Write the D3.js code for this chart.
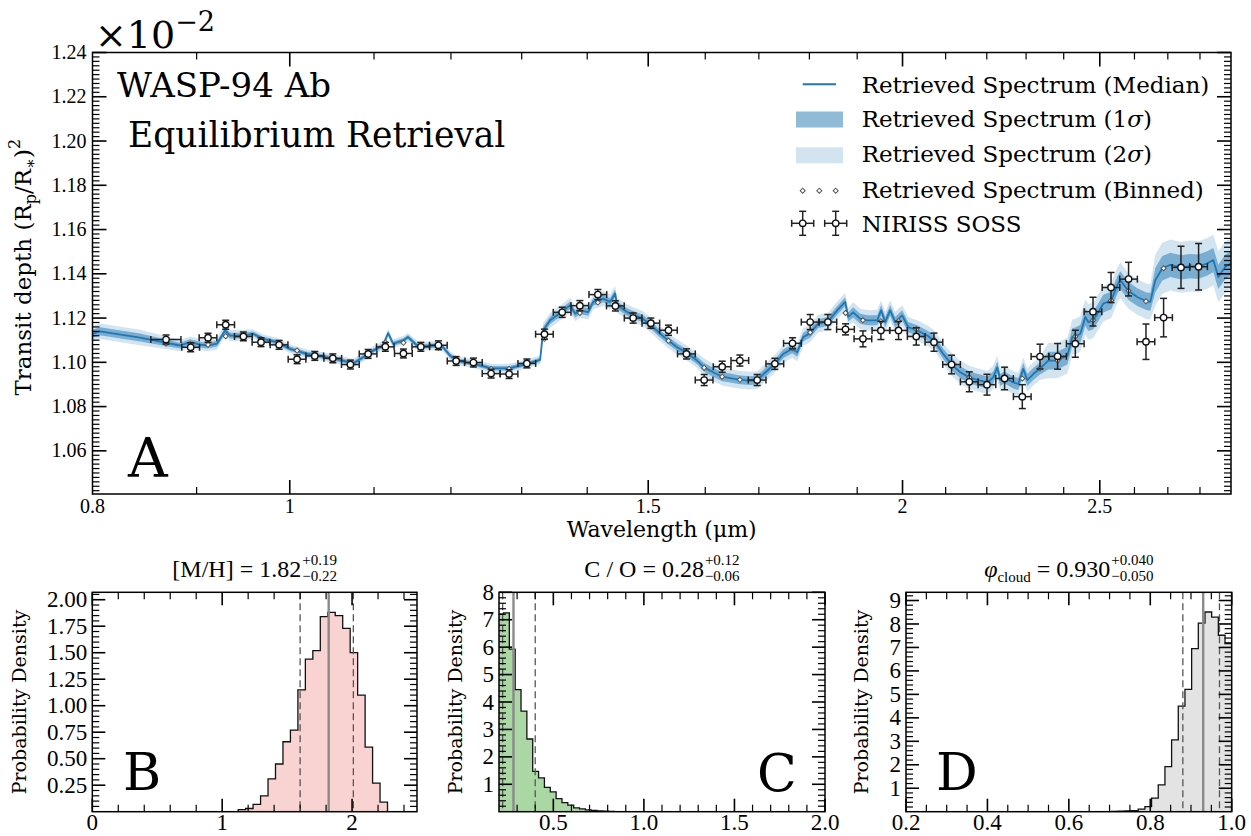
<!DOCTYPE html>
<html>
<head>
<meta charset="utf-8">
<script src="https://cdn.jsdelivr.net/npm/d3@7"></script>
<style>
  body { margin: 0; background: #fff; }
  svg { display: block; }
</style>
</head>
<body>
<svg id="chart" width="1251" height="836"></svg>
<script>
// ---------------- NIRISS SOSS transmission spectrum (depth in units of 1e-2) ----------------
const obsWave = [0.8694,0.8940,0.9117,0.9301,0.9489,0.9680,0.9880,1.0083,1.0287,1.0499,
  1.0710,1.0927,1.1142,1.1372,1.1598,1.1831,1.2071,1.2309,1.2558,1.2816,
  1.3076,1.3339,1.3609,1.3884,1.4170,1.4454,1.4747,1.5045,1.5348,1.5663,
  1.5980,1.6309,1.6639,1.6968,1.7311,1.7659,1.8016,1.8381,1.8751,1.9124,
  1.9517,1.9910,2.0313,2.0724,2.1141,2.1569,2.2005,2.2448,2.2902,2.3365,
  2.3835,2.4317,2.4809,2.5320,2.5827,2.6341,2.6871,2.7405,2.7956];
const obsWaveErr = [0.0148,0.0090,0.0091,0.0093,0.0095,0.0097,0.0099,0.0101,0.0103,0.0105,
  0.0107,0.0109,0.0111,0.0114,0.0116,0.0118,0.0121,0.0123,0.0126,0.0128,
  0.0131,0.0133,0.0136,0.0139,0.0142,0.0145,0.0147,0.0150,0.0153,0.0157,
  0.0160,0.0163,0.0166,0.0170,0.0173,0.0177,0.0180,0.0184,0.0188,0.0191,
  0.0195,0.0199,0.0203,0.0207,0.0211,0.0216,0.0220,0.0224,0.0229,0.0234,
  0.0238,0.0243,0.0248,0.0253,0.0258,0.0263,0.0269,0.0274,0.0280];
const obsDepth = [1.1103,1.1068,1.1111,1.1170,1.1117,1.1091,1.1079,1.1014,1.1029,1.1018,
  1.0990,1.1038,1.1070,1.1040,1.1070,1.1077,1.1006,1.0999,1.0949,1.0947,
  1.0995,1.1127,1.1226,1.1256,1.1306,1.1255,1.1200,1.1177,1.1145,1.1038,
  1.0920,1.0980,1.1008,1.0920,1.0993,1.1086,1.1182,1.1182,1.1149,1.1106,
  1.1144,1.1144,1.1117,1.1091,1.0990,1.0912,1.0899,1.0927,1.0845,1.1026,
  1.1027,1.1084,1.1229,1.1338,1.1376,1.1093,1.1202,1.1429,1.1432];
const obsDepthErr = [0.0020,0.0020,0.0020,0.0020,0.0020,0.0020,0.0020,0.0020,0.0020,0.0020,
  0.0020,0.0020,0.0020,0.0020,0.0020,0.0020,0.0020,0.0020,0.0020,0.0020,
  0.0020,0.0023,0.0023,0.0023,0.0023,0.0023,0.0023,0.0023,0.0023,0.0023,
  0.0025,0.0025,0.0025,0.0025,0.0025,0.0025,0.0034,0.0034,0.0025,0.0036,
  0.0041,0.0041,0.0039,0.0041,0.0042,0.0045,0.0047,0.0051,0.0054,0.0056,
  0.0058,0.0061,0.0065,0.0068,0.0076,0.0080,0.0087,0.0095,0.0105];
// retrieved model binned onto the data wavelengths
const binnedDepth = [1.1084,1.1073,1.1079,1.1118,1.1114,1.1105,1.1086,1.1053,1.1035,1.1023,
  1.0997,1.1045,1.1090,1.1088,1.1073,1.1067,1.1002,1.0990,1.0970,1.0970,
  1.0993,1.1106,1.1223,1.1223,1.1270,1.1258,1.1215,1.1162,1.1097,1.1041,
  1.0976,1.0935,1.0921,1.0920,1.0997,1.1064,1.1135,1.1185,1.1223,1.1190,
  1.1186,1.1186,1.1149,1.1099,1.0990,1.0932,1.0909,1.0932,1.0927,1.0973,
  1.1008,1.1117,1.1190,1.1280,1.1323,1.1276,1.1425,1.1429,1.1432];

// ---------------- retrieved model spectrum (median and 1/2 sigma half widths) ----------------
const modelWave = [0.8000,0.8068,0.8442,0.8833,0.8933,0.9035,0.9107,0.9210,0.9263,0.9294,
  0.9347,0.9485,0.9593,0.9702,0.9857,1.0003,1.0198,1.0384,1.0586,1.0743,
  1.0865,1.0988,1.1113,1.1177,1.1240,1.1368,1.1432,1.1549,1.1628,1.1814,
  1.1894,1.1989,1.2084,1.2305,1.2558,1.2816,1.3080,1.3274,1.3319,1.3425,
  1.3578,1.3732,1.3810,1.3888,1.4015,1.4094,1.4254,1.4368,1.4449,1.4482,
  1.4647,1.4747,1.4898,1.5050,1.5204,1.5343,1.5500,1.5676,1.5854,1.5980,
  1.6144,1.6309,1.6457,1.6645,1.6834,1.6968,1.7161,1.7317,1.7475,1.7653,
  1.7753,1.7874,1.8016,1.8180,1.8387,1.8575,1.8744,1.8808,1.8914,1.9065,
  1.9216,1.9435,1.9523,1.9611,1.9722,1.9834,1.9992,2.0128,2.0334,2.0566,
  2.0731,2.0943,2.1133,2.1350,2.1568,2.1789,2.2012,2.2162,2.2262,2.2338,
  2.2439,2.2669,2.2797,2.2927,2.3031,2.3188,2.3372,2.3585,2.3827,2.4098,
  2.4234,2.4317,2.4455,2.4594,2.4677,2.4818,2.4958,2.5100,2.5328,2.5500,
  2.5587,2.5820,2.6084,2.6351,2.6470,2.6620,2.6832,2.7076,2.7415,2.7696,
  2.7947,2.8234,2.8426,2.8587,2.8815,2.9011];
const modelMedian = [1.1129,1.1140,1.1112,1.1076,1.1091,1.1080,1.1076,1.1084,1.1121,1.1144,
  1.1121,1.1121,1.1129,1.1106,1.1091,1.1061,1.1038,1.1026,1.1011,1.0995,
  1.1023,1.1053,1.1076,1.1132,1.1084,1.1099,1.1114,1.1076,1.1073,1.1076,
  1.1068,1.1030,1.1008,1.0994,1.0973,1.0973,1.0993,1.1011,1.1144,1.1190,
  1.1223,1.1258,1.1220,1.1235,1.1227,1.1273,1.1288,1.1273,1.1311,1.1258,
  1.1227,1.1215,1.1199,1.1167,1.1129,1.1099,1.1068,1.1041,1.1008,1.0977,
  1.0955,1.0935,1.0929,1.0921,1.0917,1.0920,1.0962,1.0995,1.1038,1.1061,
  1.1045,1.1114,1.1132,1.1175,1.1185,1.1235,1.1273,1.1205,1.1226,1.1197,
  1.1190,1.1190,1.1235,1.1182,1.1235,1.1182,1.1212,1.1159,1.1144,1.1121,
  1.1099,1.1038,1.0993,1.0955,1.0932,1.0920,1.0909,1.0932,1.0977,1.0920,
  1.0932,1.0909,1.0902,1.0970,1.0920,1.0947,1.0973,1.1008,1.1008,1.1030,
  1.1114,1.1117,1.1129,1.1205,1.1182,1.1190,1.1227,1.1265,1.1280,1.1349,
  1.1371,1.1323,1.1295,1.1276,1.1273,1.1371,1.1425,1.1440,1.1429,1.1435,
  1.1432,1.1447,1.1462,1.1386,1.1432,1.1447];
const modelSig1 = [0.0018,0.0018,0.0018,0.0013,0.0013,0.0013,0.0013,0.0013,0.0013,0.0013,
  0.0013,0.0013,0.0010,0.0010,0.0010,0.0010,0.0010,0.0010,0.0010,0.0010,
  0.0010,0.0010,0.0010,0.0010,0.0010,0.0010,0.0010,0.0010,0.0010,0.0010,
  0.0010,0.0010,0.0010,0.0010,0.0010,0.0010,0.0010,0.0010,0.0017,0.0017,
  0.0017,0.0017,0.0017,0.0017,0.0017,0.0017,0.0017,0.0017,0.0017,0.0017,
  0.0017,0.0017,0.0017,0.0017,0.0017,0.0017,0.0017,0.0017,0.0017,0.0020,
  0.0020,0.0020,0.0020,0.0020,0.0020,0.0020,0.0020,0.0020,0.0020,0.0020,
  0.0020,0.0020,0.0020,0.0020,0.0020,0.0020,0.0020,0.0020,0.0023,0.0023,
  0.0023,0.0023,0.0023,0.0023,0.0023,0.0023,0.0023,0.0023,0.0023,0.0023,
  0.0023,0.0023,0.0027,0.0027,0.0027,0.0027,0.0027,0.0027,0.0027,0.0027,
  0.0027,0.0027,0.0027,0.0027,0.0027,0.0027,0.0027,0.0040,0.0040,0.0040,
  0.0040,0.0040,0.0040,0.0040,0.0040,0.0040,0.0040,0.0040,0.0040,0.0040,
  0.0040,0.0040,0.0040,0.0040,0.0040,0.0055,0.0055,0.0055,0.0055,0.0055,
  0.0055,0.0055,0.0055,0.0055,0.0055,0.0055];
const modelSig2 = [0.0035,0.0035,0.0035,0.0026,0.0026,0.0026,0.0026,0.0026,0.0026,0.0026,
  0.0026,0.0026,0.0020,0.0020,0.0020,0.0020,0.0020,0.0020,0.0020,0.0020,
  0.0020,0.0020,0.0020,0.0020,0.0020,0.0020,0.0020,0.0020,0.0020,0.0020,
  0.0020,0.0020,0.0020,0.0020,0.0020,0.0020,0.0020,0.0020,0.0034,0.0034,
  0.0034,0.0034,0.0034,0.0034,0.0034,0.0034,0.0034,0.0034,0.0034,0.0034,
  0.0034,0.0034,0.0034,0.0034,0.0034,0.0034,0.0034,0.0034,0.0034,0.0040,
  0.0040,0.0040,0.0040,0.0040,0.0040,0.0040,0.0040,0.0040,0.0040,0.0040,
  0.0040,0.0040,0.0040,0.0040,0.0040,0.0040,0.0040,0.0040,0.0046,0.0046,
  0.0046,0.0046,0.0046,0.0046,0.0046,0.0046,0.0046,0.0046,0.0046,0.0046,
  0.0046,0.0046,0.0052,0.0052,0.0052,0.0052,0.0052,0.0052,0.0052,0.0052,
  0.0052,0.0052,0.0052,0.0052,0.0052,0.0052,0.0052,0.0080,0.0080,0.0080,
  0.0080,0.0080,0.0080,0.0080,0.0080,0.0080,0.0080,0.0080,0.0080,0.0080,
  0.0080,0.0080,0.0080,0.0080,0.0080,0.0115,0.0115,0.0115,0.0115,0.0115,
  0.0115,0.0115,0.0115,0.0115,0.0115,0.0115];

// ---------------- axis ticks of the spectrum panel ----------------
const waveMajor = [1, 1.5, 2, 2.5];
const waveMinor = [0.9, 1.1, 1.2, 1.3, 1.4, 1.6, 1.7, 1.8, 1.9, 2.1, 2.2, 2.3, 2.4, 2.6, 2.7, 2.8];
const waveLabels = ["0.8", "1", "1.5", "2", "2.5"];
const depthLabels = ["1.06", "1.08", "1.10", "1.12", "1.14", "1.16", "1.18", "1.20", "1.22", "1.24"];

// ---------------- posterior distributions ----------------
const mhEdges = [1.123,1.1805,1.238,1.2955,1.353,1.4105,1.468,1.5255,1.583,1.6405,1.698,
  1.7555,1.813,1.8705,1.928,1.9855,2.043,2.1005,2.158,2.2155,2.273];
const mhDensity = [0.02,0.03,0.07,0.15,0.31,0.45,0.66,0.77,1.15,1.44,1.52,
  1.84,1.88,1.85,1.73,1.50,1.10,0.61,0.27,0.09];
const mhStats = {median: 1.82, plus: 0.19, minus: 0.22};

const coEdges = [0.1924,0.2247,0.257,0.2893,0.3216,0.3539,0.3862,0.4185,0.4508,0.4831,0.5154,
  0.5477,0.58,0.6123,0.6446,0.6769,0.7092,0.7415,0.7738,0.8061,0.8384];
const coDensity = [7.2,7.25,5.93,4.45,3.67,2.65,1.47,1.23,0.89,0.72,
  0.48,0.33,0.24,0.14,0.10,0.07,0.05,0.03,0.02,0.01];
const coStats = {median: 0.28, plus: 0.12, minus: 0.06};

const cloudEdges = [0.7048,0.7212,0.7376,0.754,0.7704,0.7868,0.8032,0.8196,0.836,0.8524,
  0.8688,0.8852,0.9016,0.918,0.9344,0.9508,0.9672,0.9836,1.0];
const cloudDensity = [0.01,0.02,0.03,0.05,0.11,0.22,0.58,1.14,1.92,3.06,
  4.50,5.21,6.95,8.04,8.51,8.29,7.52,7.16];
const cloudStats = {median: 0.930, plus: 0.040, minus: 0.050};

// ---------------- drawing ----------------
const svg = d3.select("#chart");
const SERIF = "'DejaVu Serif', serif";
const NUM = "'Liberation Serif', 'Times New Roman', serif";
const BLUE = "#1f77b4";

function seg(g, x1, y1, x2, y2, w, color) {
  return g.append("line").attr("x1", x1).attr("y1", y1).attr("x2", x2).attr("y2", y2)
    .attr("stroke", color || "#000").attr("stroke-width", w);
}

// inward ticks on all four sides plus the frame
function drawFrame(box, xs, ys, t) {
  const g = svg.append("g");
  const inX = v => xs(v) >= box.left - 0.5 && xs(v) <= box.right + 0.5;
  const inY = v => ys(v) <= box.bottom + 0.5 && ys(v) >= box.top - 0.5;
  t.xMajor.filter(inX).forEach(v => { const p = xs(v);
    seg(g, p, box.bottom, p, box.bottom - t.majLen, 1.6); seg(g, p, box.top, p, box.top + t.majLen, 1.6); });
  t.xMinor.filter(inX).forEach(v => { const p = xs(v);
    seg(g, p, box.bottom, p, box.bottom - t.minLen, 1.2); seg(g, p, box.top, p, box.top + t.minLen, 1.2); });
  t.yMajor.filter(inY).forEach(v => { const p = ys(v);
    seg(g, box.left, p, box.left + t.majLen, p, 1.6); seg(g, box.right, p, box.right - t.majLen, p, 1.6); });
  t.yMinor.filter(inY).forEach(v => { const p = ys(v);
    seg(g, box.left, p, box.left + t.minLen, p, 1.2); seg(g, box.right, p, box.right - t.minLen, p, 1.2); });
  g.append("rect").attr("x", box.left).attr("y", box.top)
    .attr("width", box.right - box.left).attr("height", box.bottom - box.top)
    .attr("fill", "none").attr("stroke", "#000").attr("stroke-width", 1.5);
}

function tickLabels(box, xs, ys, xl, yl, size, xBase, yPad) {
  const g = svg.append("g").attr("font-family", NUM).attr("font-size", size).attr("fill", "#000");
  xl.forEach(s => g.append("text").attr("x", xs(+s)).attr("y", xBase).attr("text-anchor", "middle").text(s));
  yl.forEach(s => g.append("text").attr("x", box.left - yPad).attr("y", ys(+s) + size * 0.33)
    .attr("text-anchor", "end").text(s));
}

// small open diamond (a square turned by 45 degrees)
const diamond = d3.symbol().type(d3.symbolSquare).size(13);
function addDiamond(g, px, py) {
  g.append("path").attr("transform", `translate(${px},${py}) rotate(45)`)
    .attr("d", diamond).attr("fill", "#fff").attr("stroke", "#555").attr("stroke-width", 1);
}

// ===== Panel A: transmission spectrum =====
const A = {left: 92.5, right: 1231, top: 52.5, bottom: 494};
const x = d3.scaleLog().domain([0.8, 2.9]).range([A.left, A.right]);
const y = d3.scaleLinear().domain([1.0405, 1.24]).range([A.bottom, A.top]);

svg.append("clipPath").attr("id", "clipA").append("rect")
  .attr("x", A.left).attr("y", A.top).attr("width", A.right - A.left).attr("height", A.bottom - A.top);
const plotA = svg.append("g").attr("clip-path", "url(#clipA)");

const model = modelWave.map((w, i) => ({w, m: modelMedian[i], s1: modelSig1[i], s2: modelSig2[i]}));
plotA.append("path").datum(model).attr("fill", BLUE).attr("fill-opacity", 0.2)
  .attr("d", d3.area().x(d => x(d.w)).y0(d => y(d.m - d.s2)).y1(d => y(d.m + d.s2)));
plotA.append("path").datum(model).attr("fill", BLUE).attr("fill-opacity", 0.5)
  .attr("d", d3.area().x(d => x(d.w)).y0(d => y(d.m - d.s1)).y1(d => y(d.m + d.s1)));
plotA.append("path").datum(model).attr("fill", "none").attr("stroke", BLUE).attr("stroke-width", 1.8)
  .attr("stroke-linejoin", "round")
  .attr("d", d3.line().x(d => x(d.w)).y(d => y(d.m)));

obsWave.forEach((w, i) => addDiamond(plotA, x(w), y(binnedDepth[i])));

const obs = obsWave.map((w, i) => ({w, dw: obsWaveErr[i], d: obsDepth[i], dd: obsDepthErr[i]}));
const eb = plotA.append("g");
const CAP = 3.5;
obs.forEach(o => {
  const cx = x(o.w), cy = y(o.d), x0 = x(o.w - o.dw), x1 = x(o.w + o.dw), y0 = y(o.d - o.dd), y1 = y(o.d + o.dd);
  seg(eb, x0, cy, x1, cy, 1.5, "#222");
  seg(eb, cx, y0, cx, y1, 1.5, "#222");
  seg(eb, x0, cy - CAP, x0, cy + CAP, 1.5, "#222");
  seg(eb, x1, cy - CAP, x1, cy + CAP, 1.5, "#222");
  seg(eb, cx - CAP, y0, cx + CAP, y0, 1.5, "#222");
  seg(eb, cx - CAP, y1, cx + CAP, y1, 1.5, "#222");
});
plotA.selectAll("circle.obs").data(obs).join("circle").attr("class", "obs")
  .attr("cx", o => x(o.w)).attr("cy", o => y(o.d)).attr("r", 3.2)
  .attr("fill", "#fff").attr("stroke", "#111").attr("stroke-width", 1.4);

const depthMinor = d3.range(521, 621).filter(k => k % 10 !== 0).map(k => k * 0.002);
drawFrame(A, x, y, {xMajor: waveMajor, xMinor: waveMinor, yMajor: depthLabels.map(Number),
  yMinor: depthMinor, majLen: 14, minLen: 7});
tickLabels(A, x, y, waveLabels, depthLabels, 20, 513, 6);

// scale factor above the y axis
svg.append("text").attr("x", 95).attr("y", 48).attr("font-family", SERIF).attr("font-size", 38)
  .text("×10").append("tspan").attr("dy", -17).attr("font-size", 27).text("−2");

// axis titles
svg.append("text").attr("x", (A.left + A.right) / 2).attr("y", 537).attr("text-anchor", "middle")
  .attr("font-family", SERIF).attr("font-size", 22).text("Wavelength (μm)");
const yl = svg.append("text").attr("transform", `translate(31,${(A.top + A.bottom) / 2 - 6}) rotate(-90)`)
  .attr("text-anchor", "middle").attr("font-family", SERIF).attr("font-size", 23);
yl.append("tspan").text("Transit depth (R");
yl.append("tspan").attr("font-size", 16).attr("dy", 5).text("p");
yl.append("tspan").attr("dy", -5).text("/R");
yl.append("tspan").attr("font-size", 16).attr("dy", 5).text("∗");
yl.append("tspan").attr("dy", -5).text(")");
yl.append("tspan").attr("font-size", 16).attr("dy", -11).text("2");

// panel annotations
svg.append("text").attr("x", 117).attr("y", 97).attr("font-family", SERIF).attr("font-size", 34).text("WASP-94 Ab");
svg.append("text").attr("x", 128).attr("y", 147).attr("font-family", SERIF).attr("font-size", 34.5).text("Equilibrium Retrieval");
svg.append("text").attr("x", 128).attr("y", 477).attr("font-family", SERIF).attr("font-size", 55).text("A");

// legend
const lg = svg.append("g");
seg(lg, 802.7, 84.3, 836, 84.3, 2, BLUE);
lg.append("rect").attr("x", 796).attr("y", 111.5).attr("width", 47).attr("height", 16).attr("fill", BLUE).attr("fill-opacity", 0.5);
lg.append("rect").attr("x", 796).attr("y", 147.3).attr("width", 47).attr("height", 16).attr("fill", BLUE).attr("fill-opacity", 0.2);
[802.7, 819.3, 835.7].forEach(px => addDiamond(lg, px, 190.7));
[802.7, 835.7].forEach(px => {
  const cy = 223.3, hx = 11, hy = 12;
  seg(lg, px - hx, cy, px + hx, cy, 1.5, "#222");
  seg(lg, px, cy - hy, px, cy + hy, 1.5, "#222");
  seg(lg, px - hx, cy - CAP, px - hx, cy + CAP, 1.5, "#222");
  seg(lg, px + hx, cy - CAP, px + hx, cy + CAP, 1.5, "#222");
  seg(lg, px - CAP, cy - hy, px + CAP, cy - hy, 1.5, "#222");
  seg(lg, px - CAP, cy + hy, px + CAP, cy + hy, 1.5, "#222");
  lg.append("circle").attr("cx", px).attr("cy", cy).attr("r", 3.2).attr("fill", "#fff").attr("stroke", "#111").attr("stroke-width", 1.4);
});
const legendRows = [
  ["Retrieved Spectrum (Median)"],
  ["Retrieved Spectrum (1", "σ", ")"],
  ["Retrieved Spectrum (2", "σ", ")"],
  ["Retrieved Spectrum (Binned)"],
  ["NIRISS SOSS"]
];
const legendBase = [93, 127, 162, 197.5, 231.5];
legendRows.forEach((parts, i) => {
  const t = lg.append("text").attr("x", 861.7).attr("y", legendBase[i]).attr("font-family", SERIF).attr("font-size", 23);
  parts.forEach((p, j) => { const ts = t.append("tspan").text(p); if (j === 1) ts.attr("font-style", "italic"); });
});

// ===== Posterior panels =====
function histPanel(box, xs, ys, edges, dens, stats, fill, id) {
  svg.append("clipPath").attr("id", id).append("rect")
    .attr("x", box.left).attr("y", box.top).attr("width", box.right - box.left).attr("height", box.bottom - box.top);
  const g = svg.append("g").attr("clip-path", `url(#${id})`);
  const pts = [[edges[0], 0]];
  dens.forEach((d, i) => { pts.push([edges[i], d]); pts.push([edges[i + 1], d]); });
  pts.push([edges[edges.length - 1], 0]);
  g.append("path").datum(pts).attr("fill", fill).attr("stroke", "#111").attr("stroke-width", 1.3)
    .attr("d", d3.line().x(p => xs(p[0])).y(p => ys(p[1])));
  const lo = stats.median - stats.minus, hi = stats.median + stats.plus;
  [lo, hi].forEach(v => seg(g, xs(v), box.top, xs(v), box.bottom, 1.3, "#555").attr("stroke-dasharray", "7,4"));
  seg(g, xs(stats.median), box.top, xs(stats.median), box.bottom, 2.4, "#8a8a8a");
}

function statTitle(cx, base, mainParts, stats, digits) {
  const g = svg.append("g");
  const t = g.append("text").attr("y", base).attr("font-family", NUM).attr("font-size", 24);
  mainParts.forEach(p => {
    const ts = t.append("tspan").text(p.text);
    if (p.italic) ts.attr("font-style", "italic");
    if (p.size) ts.attr("font-size", p.size);
    if (p.dy) ts.attr("dy", p.dy);
  });
  t.append("tspan").text(stats.median.toFixed(digits));
  const w = t.node().getComputedTextLength();
  const sup = g.append("text").attr("x", w + 1).attr("y", base - 12).attr("font-family", NUM).attr("font-size", 15)
    .text("+" + stats.plus.toFixed(digits));
  const sub = g.append("text").attr("x", w + 1).attr("y", base + 4).attr("font-family", NUM).attr("font-size", 15)
    .text("−" + stats.minus.toFixed(digits));
  const total = w + 1 + Math.max(sup.node().getComputedTextLength(), sub.node().getComputedTextLength());
  g.attr("transform", `translate(${cx - total / 2},0)`);
}

function yTitle(cx, cy) {
  svg.append("text").attr("transform", `translate(${cx},${cy}) rotate(-90)`).attr("text-anchor", "middle")
    .attr("font-family", SERIF).attr("font-size", 19).text("Probability Density");
}

const ROW = {top: 592.3, bottom: 811.7};
const XLAB_BASE = 830;

// B: metallicity
const B = {left: 92.3, right: 417, ...ROW};
const xB = d3.scaleLinear().domain([0, 2.5]).range([B.left, B.right]);
const yB = d3.scaleLinear().domain([0, 2.07]).range([B.bottom, B.top]);
histPanel(B, xB, yB, mhEdges, mhDensity, mhStats, "#f9d3d1", "clipB");
drawFrame(B, xB, yB, {xMajor: [0, 1, 2], xMinor: d3.range(1, 13).filter(k => k % 5).map(k => k * 0.2),
  yMajor: d3.range(1, 9).map(k => k * 0.25), yMinor: d3.range(1, 42).filter(k => k % 5).map(k => k * 0.05),
  majLen: 13, minLen: 7});
tickLabels(B, xB, yB, ["0", "1", "2"], ["0.25", "0.50", "0.75", "1.00", "1.25", "1.50", "1.75", "2.00"], 23, XLAB_BASE, 5);
statTitle((B.left + B.right) / 2, 577, [{text: "[M/H] = "}], mhStats, 2);
yTitle(26, (ROW.top + ROW.bottom) / 2);
svg.append("text").attr("x", 123).attr("y", 790).attr("font-family", SERIF).attr("font-size", 52).text("B");

// C: carbon-to-oxygen ratio
const C = {left: 499, right: 825, ...ROW};
const xC = d3.scaleLinear().domain([0.2, 2.0]).range([C.left, C.right]);
const yC = d3.scaleLinear().domain([0, 8]).range([C.bottom, C.top]);
histPanel(C, xC, yC, coEdges, coDensity, coStats, "#aad7a4", "clipC");
drawFrame(C, xC, yC, {xMajor: [0.5, 1.0, 1.5, 2.0], xMinor: d3.range(3, 20).filter(k => k % 5).map(k => k * 0.1),
  yMajor: d3.range(1, 9), yMinor: d3.range(1, 40).filter(k => k % 5).map(k => k * 0.2),
  majLen: 13, minLen: 7});
tickLabels(C, xC, yC, ["0.5", "1.0", "1.5", "2.0"], ["1", "2", "3", "4", "5", "6", "7", "8"], 23, XLAB_BASE, 5);
statTitle((C.left + C.right) / 2, 577, [{text: "C / O = "}], coStats, 2);
yTitle(462, (ROW.top + ROW.bottom) / 2);
svg.append("text").attr("x", 757).attr("y", 791).attr("font-family", SERIF).attr("font-size", 52).text("C");

// D: cloud fraction
const D = {left: 906, right: 1231.7, ...ROW};
const xD = d3.scaleLinear().domain([0.2, 1.0]).range([D.left, D.right]);
const yD = d3.scaleLinear().domain([0, 9.35]).range([D.bottom, D.top]);
histPanel(D, xD, yD, cloudEdges, cloudDensity, cloudStats, "#e3e3e3", "clipD");
drawFrame(D, xD, yD, {xMajor: [0.2, 0.4, 0.6, 0.8, 1.0], xMinor: d3.range(5, 20).filter(k => k % 4).map(k => k * 0.05),
  yMajor: d3.range(1, 10), yMinor: d3.range(1, 47).filter(k => k % 5).map(k => k * 0.2),
  majLen: 13, minLen: 7});
tickLabels(D, xD, yD, ["0.2", "0.4", "0.6", "0.8", "1.0"], ["1", "2", "3", "4", "5", "6", "7", "8", "9"], 23, XLAB_BASE, 5);
statTitle((D.left + D.right) / 2, 577,
  [{text: "φ", italic: true}, {text: "cloud", size: 15, dy: 5}, {text: " = ", dy: -5}], cloudStats, 3);
yTitle(868, (ROW.top + ROW.bottom) / 2);
svg.append("text").attr("x", 936).attr("y", 790).attr("font-family", SERIF).attr("font-size", 52).text("D");
</script>
</body>
</html>
